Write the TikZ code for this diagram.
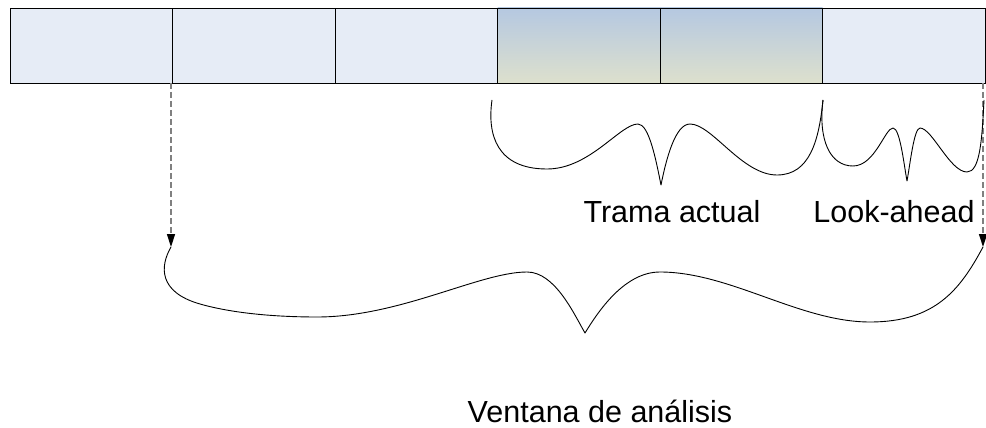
\documentclass[tikz,border=0pt]{standalone}
\usepackage{fontspec}
\setmainfont{Liberation Sans}
\usepackage{tikz}
\usetikzlibrary{positioning,arrows.meta}

\definecolor{cellfill}{RGB}{230,236,246}
\definecolor{frametop}{RGB}{181,200,225}
\definecolor{framebot}{RGB}{221,224,205}
\definecolor{guide}{RGB}{128,128,128}

\tikzset{
  cell/.style={draw=black,line width=0.9pt,fill=cellfill,minimum width=162.5pt,
    minimum height=75pt,inner sep=0pt,outer sep=0pt},
  frame/.style={cell,top color=frametop,bottom color=framebot},
  brace/.style={black,line width=0.9pt,line join=round},
  guideline/.style={guide,line width=1.5pt,dash pattern=on 6pt off 3pt,
    -{Triangle[length=13pt,width=8pt,color=black,fill=black]}},
  label/.style={font=\fontsize{30.5}{36}\selectfont,anchor=base,inner sep=0pt}
}

\begin{document}
\begin{tikzpicture}[x=1pt,y=-1pt]
      \useasboundingbox (0,0) rectangle (986,428);
      % buffer of frames
      \node[cell,anchor=north west] (c1) at (10,8) {};
      \node[cell] (c2) [right=0pt of c1] {};
      \node[cell] (c3) [right=0pt of c2] {};
      \node[frame] (c4) [right=0pt of c3] {};
      \node[frame] (c5) [right=0pt of c4] {};
      \node[cell] (c6) [right=0pt of c5] {};
      % ends of the analysis window
      \coordinate (wl) at ([xshift=-1.5pt,yshift=-164pt]c1.south east);
      \coordinate (wr) at ([xshift=-2pt,yshift=-164pt]c6.south east);
      \draw[guideline] ([xshift=-1.5pt]c1.south east) -- (wl);
      \draw[guideline] ([xshift=-2pt]c6.south east) -- (wr);
      % current frame
      \draw[brace] (492,100) .. controls (487,135) and (497,169) .. (547,169)
        .. controls (590,169) and (620,124) .. (638,124)
        .. controls (649,124) and (656,160) .. (661,185)
        .. controls (666,160) and (675,124) .. (690,124)
        .. controls (712,124) and (742,175) .. (777,175)
        .. controls (810,175) and (819,140) .. (823,100);
      % look-ahead
      \draw[brace] (823,100) .. controls (818,140) and (830,166) .. (853,166)
        .. controls (875,166) and (885,128) .. (893,128)
        .. controls (900,128) and (904,165) .. (907,181)
        .. controls (910,165) and (914,128) .. (920,128)
        .. controls (932,128) and (950,172) .. (967,172)
        .. controls (980,172) and (982,140) .. (984,100);
      % analysis window
      \draw[brace] (wl) .. controls (160,266) and (158,292) .. (200,304)
        .. controls (235,314) and (280,317) .. (317,317)
        .. controls (400,317) and (480,272) .. (527,272)
        .. controls (555,272) and (574,314) .. (585,333)
        .. controls (599,310) and (625,272) .. (660,272)
        .. controls (730,272) and (800,322) .. (870,322)
        .. controls (935,322) and (960,290) .. (wr);
      \node[label] (trama) at (672,222) {Trama actual};
      \node[label] (ahead) at (894,222) {Look-ahead};
      \node[label] (ventana) at (600,422) {Ventana de análisis};
\end{tikzpicture}
\end{document}
